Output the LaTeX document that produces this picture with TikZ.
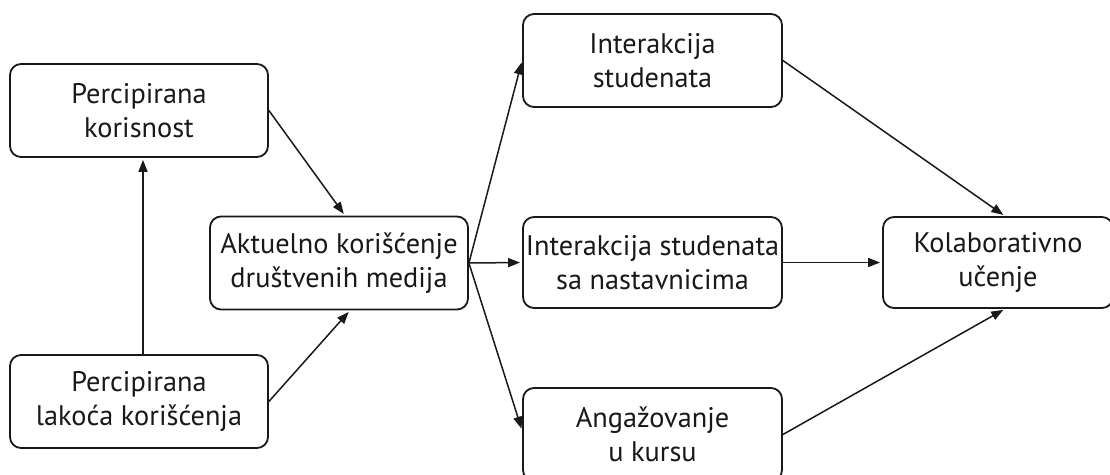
\documentclass[tikz,border=0pt]{standalone}
\usepackage{fontspec}
\setmainfont{PT Sans}
\usetikzlibrary{arrows.meta}
\begin{document}
\begin{tikzpicture}[x=1pt,y=-1pt,
  box/.style={draw=black!90, line width=1.8pt, rounded corners=11pt,
    minimum width=258pt, minimum height=93pt, align=center, inner sep=2pt,
    font=\fontsize{28.3}{34}\selectfont, text=black!90},
  link/.style={line width=1.5pt, draw=black!90,
    -{Triangle[length=12pt,width=9pt]}, shorten >=2pt}]
\useasboundingbox (0,0) rectangle (1110,474);
\clip (0,0) rectangle (1110,474);
\fill[white] (0,0) rectangle (1110,474);

\node[box] (kor) at (139,110.5) {Percipirana\\korisnost};
\node[box] (lak) at (139,401.5) {Percipirana\\lakoća korišćenja};
\node[box] (akt) at (339,263) {Aktuelno korišćenje\\društvenih medija};
\node[box, minimum width=259pt] (is)  at (652.5,60.5)  {Interakcija\\studenata};
\node[box, minimum width=259pt, minimum height=91pt] (isn) at (652.5,262.5) {Interakcija studenata\\sa nastavnicima};
\node[box, minimum width=259pt] (ang) at (652.5,434.5) {Angažovanje\\u kursu};
\node[box, minimum width=230pt, minimum height=91pt] (kol) at (998,262.5) {Kolaborativno\\učenje};

\draw[link] ([xshift=4pt]lak.north) -- ([xshift=4pt]kor.south);
\draw[link] (kor.east) -- ([xshift=6pt]akt.north);
\draw[link] (lak.east) -- ([xshift=11pt]akt.south);
\draw[link] (akt.east) -- (is.west);
\draw[link] (akt.east) -- (isn.west);
\draw[link] (akt.east) -- ([yshift=4pt]ang.west);
\draw[link] (is.east) -- ([xshift=7pt]kol.north);
\draw[link] (isn.east) -- (kol.west);
\draw[link] (ang.east) -- ([xshift=7pt]kol.south);
\end{tikzpicture}
\end{document}
